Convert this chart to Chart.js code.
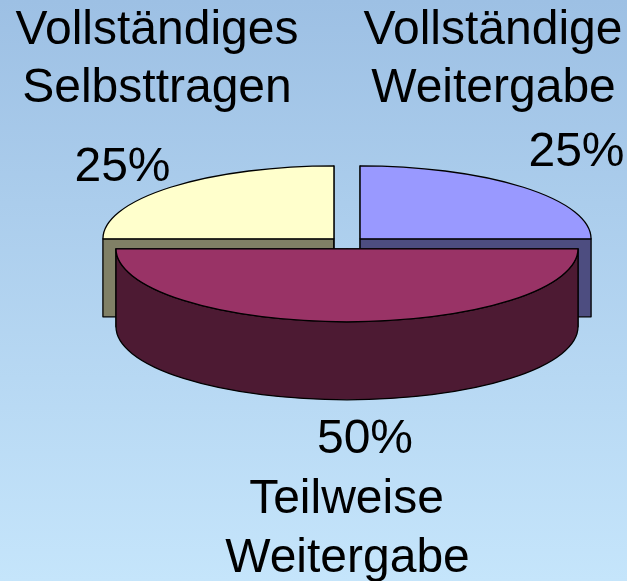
<!DOCTYPE html>
<html>
<head>
<meta charset="utf-8">
<style>html,body{margin:0;padding:0;background:#b0d0ee}canvas{display:block}</style>
<script src="https://cdn.jsdelivr.net/npm/chart.js@4"></script>
</head>
<body>
<canvas id="c" width="627" height="581"></canvas>
<script>
const categories = ['Vollständige Weitergabe', 'Teilweise Weitergabe', 'Vollständiges Selbsttragen'];
const shares = [25, 50, 25];
const topColors = ['#9999FF', '#993366', '#FFFFCC'];
const wallColors = ['#4D4D80', '#4D1A33', '#808066'];

const PIE = {cx: 347, cy: 243, tilt: 73 / 231, depth: 78, radius: 231, explode: 18.5, line: 1.3};
// [line, x-centre, baseline]: line -1 is the percentage, others are words of the category
const TEXT = [
  [[0, 493, 44], [1, 493.5, 102], [-1, 576.5, 166]],
  [[-1, 365, 453], [0, 346.5, 513], [1, 347.5, 572]],
  [[0, 157, 44], [1, 157, 102], [-1, 122.5, 181]]
];

const pie3d = {
  id: 'pie3d',
  beforeDraw(chart) {
    const {ctx, width, height} = chart;
    const g = ctx.createLinearGradient(0, 0, 0, height);
    g.addColorStop(0, '#9DC0E4');
    g.addColorStop(1, '#C5E5FB');
    ctx.save();
    ctx.fillStyle = g;
    ctx.fillRect(0, 0, width, height);
    ctx.restore();
  },
  geometry(chart) {
    return chart.getDatasetMeta(0).data.map((el, i) => {
      const mid = (el.startAngle + el.endAngle) / 2;
      return {
        i, el, r: el.outerRadius, a0: el.startAngle, a1: el.endAngle,
        x: PIE.cx + Math.cos(mid) * PIE.explode,
        y: PIE.cy + Math.sin(mid) * PIE.explode * PIE.tilt
      };
    });
  },
  beforeDatasetDraw(chart) {
    const ctx = chart.ctx, ry = PIE.tilt;
    const parts = this.geometry(chart);
    const ordered = parts.slice().sort((a, b) => a.y - b.y);
    ctx.save();
    ctx.strokeStyle = '#000';
    ctx.lineWidth = PIE.line;
    ctx.lineJoin = 'round';
    for (const p of ordered) {
      ctx.fillStyle = wallColors[p.i];
      for (const a of [p.a0, p.a1]) {
        const ex = p.x + Math.cos(a) * p.r, ey = p.y + Math.sin(a) * p.r * ry;
        ctx.beginPath();
        ctx.moveTo(p.x, p.y);
        ctx.lineTo(ex, ey);
        ctx.lineTo(ex, ey + PIE.depth);
        ctx.lineTo(p.x, p.y + PIE.depth);
        ctx.closePath();
        ctx.fill();
        ctx.stroke();
      }
      const b0 = Math.max(p.a0, 0), b1 = Math.min(p.a1, Math.PI);
      if (b1 > b0) {
        ctx.beginPath();
        ctx.ellipse(p.x, p.y, p.r, p.r * ry, 0, b0, b1);
        ctx.ellipse(p.x, p.y + PIE.depth, p.r, p.r * ry, 0, b1, b0, true);
        ctx.closePath();
        ctx.fill();
        ctx.stroke();
      }
    }
    ctx.restore();
    // the library's own arcs, each flattened onto the tilted plane and pulled out
    for (const p of parts) {
      ctx.save();
      ctx.translate(p.x, p.y);
      ctx.scale(1, ry);
      ctx.translate(-p.el.x, -p.el.y);
      p.el.draw(ctx);
      ctx.restore();
    }
    return false;
  },
  afterDatasetsDraw(chart) {
    const ctx = chart.ctx;
    ctx.save();
    ctx.strokeStyle = '#000';
    ctx.lineWidth = PIE.line;
    ctx.lineJoin = 'round';
    for (const p of this.geometry(chart)) {
      ctx.beginPath();
      ctx.moveTo(p.x, p.y);
      ctx.ellipse(p.x, p.y, p.r, p.r * PIE.tilt, 0, p.a0, p.a1);
      ctx.closePath();
      ctx.stroke();
    }
    ctx.fillStyle = '#000';
    ctx.font = '48px "Liberation Sans", Arial, sans-serif';
    ctx.textAlign = 'center';
    ctx.textBaseline = 'alphabetic';
    TEXT.forEach((rows, i) => {
      const words = categories[i].split(' ');
      for (const [line, x, y] of rows) {
        ctx.fillText(line < 0 ? shares[i] + '%' : words[line], x, y);
      }
    });
    ctx.restore();
  }
};

new Chart(document.getElementById('c'), {
  type: 'pie',
  data: {
    labels: categories,
    datasets: [{
      data: shares,
      backgroundColor: topColors,
      borderWidth: 0,
      radius: PIE.radius,
      clip: false
    }]
  },
  options: {
    responsive: false,
    animation: false,
    events: [],
    radius: PIE.radius,
    layout: {padding: 0},
    plugins: {legend: {display: false}, title: {display: false}, tooltip: {enabled: false}}
  },
  plugins: [pie3d]
});
</script>
</body>
</html>
